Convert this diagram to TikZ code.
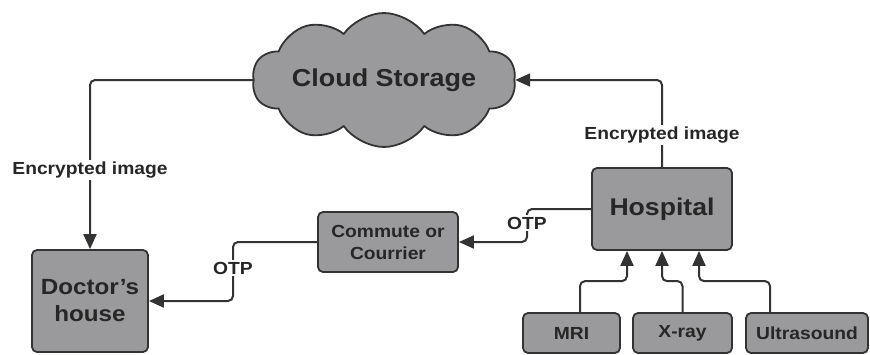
\documentclass[tikz,border=0pt]{standalone}
\usepackage{fontspec}
\setmainfont[FakeStretch=1.1]{Liberation Sans}
\usetikzlibrary{shapes.symbols,arrows.meta}
\definecolor{boxfill}{HTML}{9A9A9C}
\definecolor{edge}{HTML}{333333}
\definecolor{txt}{HTML}{262626}
\tikzset{
 box/.style={draw=edge, line width=1.8pt, fill=boxfill, rounded corners=5pt, align=center, text=txt, inner sep=0pt},
 smallfont/.style={font=\bfseries\fontsize{17.5}{22}\selectfont},
 conn/.style={draw=edge, line width=2pt, rounded corners=5pt},
 arr/.style={conn, -{Triangle[length=15pt,width=13pt]}},
 lbl/.style={fill=white, text=txt, inner sep=2pt, font=\bfseries\fontsize{17.5}{20}\selectfont},
}
\begin{document}
\begin{tikzpicture}[x=1pt,y=-1pt]
\useasboundingbox (0,0) rectangle (870,354);
\node[draw=edge, line width=1.8pt, fill=boxfill, cloud, cloud puffs=10, cloud puff arc=110, cloud ignores aspect, minimum width=258pt, minimum height=134pt, text=txt, font=\bfseries\fontsize{24.5}{28}\selectfont] (cloud) at (384,80) {Cloud Storage};
\node[box, minimum width=116pt, minimum height=102pt, font=\bfseries\fontsize{22}{27}\selectfont] (doc) at (90,301) {Doctor{\char"0027}s\\house};
\node[box, minimum width=140pt, minimum height=60pt, smallfont] (comm) at (388,242) {Commute or\\Courrier};
\node[box, minimum width=140pt, minimum height=82pt, font=\bfseries\fontsize{24.2}{28}\selectfont] (hosp) at (662,209) {Hospital};
\node[box, minimum width=97pt, minimum height=40pt, smallfont] (mri) at (571.5,333) {MRI};
\node[box, minimum width=99pt, minimum height=40pt, smallfont] (xray) at (682.5,333) {X-ray};
\node[box, minimum width=122pt, minimum height=40pt, smallfont] (ultra) at (807,333) {Ultrasound};
% connectors
\draw[arr] (cloud.west) -| (doc.north);
\draw[arr] (hosp.north) |- (cloud.east);
\draw[arr] (hosp.west) -| (527,225) |- (comm.east);
\draw[arr] (comm.west) -| (233,270) |- (doc.east);
\draw[arr] ([xshift=8.5pt]mri.north) -- ++(0,-31) -| ([xshift=-35pt]hosp.south);
\draw[arr] (xray.north) -- ++(0,-31) -| (hosp.south);
\draw[arr] ([xshift=-37pt]ultra.north) -- ++(0,-31) -| ([xshift=37pt]hosp.south);
% labels
\node[lbl] (l1) at (90,170) {Encrypted image};
\node[lbl] (l2) at (662,135) {Encrypted image};
\node[lbl] (l3) at (527,223) {OTP};
\node[lbl] (l4) at (233,268) {OTP};
\end{tikzpicture}
\end{document}
